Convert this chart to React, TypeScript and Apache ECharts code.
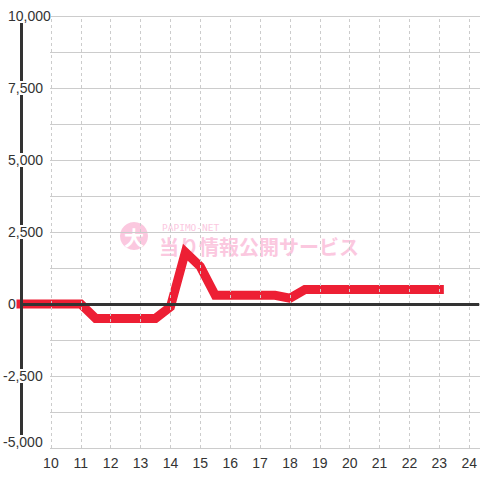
import React, { useEffect, useRef } from "react";
import * as echarts from "echarts";

const hours = [9, 9.5, 10, 10.5, 11, 11.5, 12, 12.5, 13, 13.5, 14, 14.5, 15, 15.5, 16, 16.5, 17, 17.5, 18, 18.5, 19, 19.5, 20, 20.5, 21, 21.5, 22, 22.5, 23];
const values = [0, 0, 0, 0, 0, -500, -500, -500, -500, -500, -100, 1800, 1300, 300, 300, 300, 300, 300, 200, 500, 500, 500, 500, 500, 500, 500, 500, 500, 500];
const yMin = -5000;
const yMax = 10000;
const yLabelStep = 2500;
const yGridStep = 1250;
const xMin = 9;
const xMax = 24.3333;
const xLabels = [10, 11, 12, 13, 14, 15, 16, 17, 18, 19, 20, 21, 22, 23, 24];

const FONT = "'Liberation Sans', Arial, sans-serif";
const PINK = "#fbc8df";

export default function App() {
  const ref = useRef<HTMLDivElement>(null);
  useEffect(() => {
    if (!ref.current) return;
    const chart = echarts.init(ref.current, undefined, { renderer: "svg" });
    const data = hours.map((h, i) => [h, values[i]]);
    chart.setOption({
      animation: false,
      backgroundColor: "#fff",
      grid: [
        { left: 20, right: 0, top: 16, bottom: 32, containLabel: false },
        { left: 50, right: 0, top: 16, bottom: 32, containLabel: false },
      ],
      xAxis: [
        {
          type: "value",
          gridIndex: 0,
          min: xMin,
          max: xMax,
          interval: 1,
          axisLine: { show: false },
          axisTick: { show: false },
          axisLabel: {
            color: "#333",
            fontSize: 14,
            fontFamily: FONT,
            margin: 8,
            showMaxLabel: false,
            formatter: (v: number) => (xLabels.indexOf(v) >= 0 ? String(v) : ""),
          },
          splitLine: { show: false },
        },
        {
          type: "value",
          gridIndex: 1,
          min: 0,
          max: 1,
          show: false,
          splitLine: { show: false },
        },
      ],
      yAxis: [
        {
          type: "value",
          gridIndex: 0,
          min: yMin,
          max: yMax,
          interval: yLabelStep,
          axisLine: { show: true, lineStyle: { color: "#333", width: 3 } },
          axisTick: { show: false },
          splitLine: { show: false },
          axisLabel: {
            align: "left",
            margin: 18,
            color: "#333",
            fontSize: 14,
            fontFamily: FONT,
            backgroundColor: "#fff",
            formatter: (v: number) => {
              const s = v.toLocaleString("en-US");
              if (v === yMin) return "{low|" + s + "}";
              if (v < 0) return "{n|" + s + "}";
              return "{p|" + s + "}";
            },
            rich: {
              p: { padding: [0, 0, 0, 5], color: "#333", fontSize: 14, fontFamily: FONT },
              n: { color: "#333", fontSize: 14, fontFamily: FONT },
              low: { padding: [0, 0, 12, 0], color: "#333", fontSize: 14, fontFamily: FONT },
            },
          },
          z: 5,
        },
        {
          type: "value",
          gridIndex: 1,
          min: yMin,
          max: yMax,
          interval: yGridStep,
          axisLine: { show: false },
          axisTick: { show: false },
          axisLabel: { show: false },
          splitLine: { show: true, lineStyle: { color: "#cccccc", width: 1, type: "solid" } },
        },
      ],
      graphic: [
        {
          type: "group",
          silent: true,
          z: 1,
          children: [
            { type: "circle", shape: { cx: 134, cy: 236, r: 14 }, style: { fill: PINK } },
            {
              type: "text",
              x: 134,
              y: 237,
              style: {
                text: "大",
                fill: "#fff",
                font: "bold 20px 'Noto Sans CJK JP'",
                align: "center",
                verticalAlign: "middle",
              },
            },
            {
              type: "text",
              x: 162,
              y: 227,
              style: {
                text: "PAPIMO-NET",
                fill: PINK,
                font: "9.5px 'DejaVu Sans Mono', monospace",
                align: "left",
                verticalAlign: "middle",
              },
            },
            {
              type: "text",
              x: 159,
              y: 246,
              style: {
                text: "当り情報公開サービス",
                fill: PINK,
                font: "bold 20px 'Noto Sans CJK JP'",
                align: "left",
                verticalAlign: "middle",
              },
            },
          ],
        },
      ],
      series: [
        {
          type: "line",
          name: "grid",
          xAxisIndex: 0,
          yAxisIndex: 0,
          data: [],
          z: 2,
          markLine: {
            silent: true,
            symbol: "none",
            animation: false,
            label: { show: false },
            lineStyle: { color: "#cccccc", width: 1, type: [3, 3] },
            data: xLabels.map((v) => ({ xAxis: v })),
          },
        },
        {
          type: "line",
          name: "zero",
          xAxisIndex: 0,
          yAxisIndex: 0,
          data: [],
          z: 3,
          markLine: {
            silent: true,
            symbol: "none",
            animation: false,
            label: { show: false },
            lineStyle: { color: "#333", width: 3, type: "solid" },
            data: [{ yAxis: 0 }],
          },
        },
        {
          type: "line",
          name: "value",
          xAxisIndex: 0,
          yAxisIndex: 0,
          data,
          showSymbol: false,
          symbol: "none",
          z: 4,
          lineStyle: { color: "#ed1f34", width: 9, cap: "square", join: "miter" },
        },
      ],
    });
    return () => chart.dispose();
  }, []);
  return (
    <div
      ref={ref}
      style={{ position: "fixed", left: 0, top: 0, width: 480, height: 480, background: "#fff" }}
    />
  );
}
